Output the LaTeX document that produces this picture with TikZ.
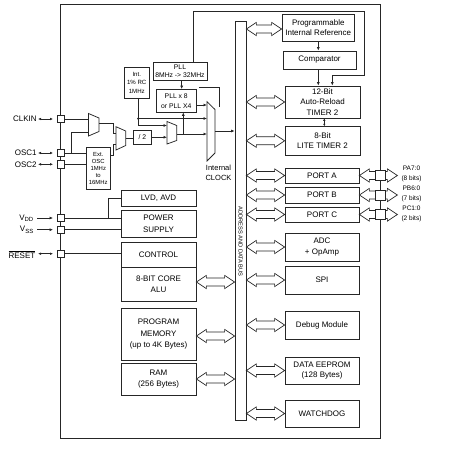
\documentclass[tikz,border=0pt]{standalone}
\usepackage{fontspec}
\setmainfont{Liberation Sans}
\usetikzlibrary{calc,arrows.meta}
\newcommand\fatarr[2]{\draw[fat] (#1) -- ($(#1)+(10,-6.6)$) -- ($(#1)+(10,-4)$) -- ($(#2)+(-10,-4)$) -- ($(#2)+(-10,-6.6)$) -- (#2) -- ($(#2)+(-10,6.6)$) -- ($(#2)+(-10,4)$) -- ($(#1)+(10,4)$) -- ($(#1)+(10,6.6)$) -- cycle;}
\tikzset{
 blk/.style={draw=black!85, fill=white, line width=0.75pt, align=center, inner sep=0pt, font=\fontsize{8}{10.5}\selectfont},
 sblk/.style={blk, font=\fontsize{6.8}{8.4}\selectfont},
 pinbox/.style={draw=black!85, fill=white, line width=0.75pt, minimum size=7.5pt, inner sep=0pt},
 ppin/.style={pinbox, minimum size=10pt},
 wire/.style={line width=0.75pt, draw=black!85},
 arr/.style={wire, -{Latex[length=3.5pt,width=3pt]}},
 dblarr/.style={wire, {Latex[length=3pt,width=2.6pt]}-{Latex[length=3pt,width=2.6pt]}},
 fat/.style={draw=black!85, fill=white, line width=0.7pt, line join=miter},
 plab/.style={font=\fontsize{8}{9}\selectfont, inner sep=0pt, anchor=east},
 portlab/.style={font=\fontsize{6.5}{10}\selectfont, inner sep=0pt, align=center},
 mux/.style={wire, fill=white},
}
\begin{document}
\begin{tikzpicture}[x=1pt,y=-1pt]
\useasboundingbox (0,0) rectangle (450,450);
% outer frame
\draw[line width=0.9pt, black!85] (60,4) rectangle (380,438);

% bus
\node[blk, minimum width=11pt, minimum height=399pt] (bus) at (240.5,220.5) {};
\node[font=\fontsize{5.7}{6}\selectfont, rotate=-90, inner sep=0pt] (bustxt) at (240.5,241.5) {ADDRESS AND DATA BUS};

% right blocks
\node[blk, minimum width=72.5pt, minimum height=27pt] (pir) at (318.25,27.5) {Programmable\\Internal Reference};
\node[blk, minimum width=73pt, minimum height=18pt] (comp) at (319.5,60) {Comparator};
\node[blk, minimum width=75pt, minimum height=32pt] (t2) at (322.5,102) {12-Bit\\Auto-Reload\\TIMER 2};
\node[blk, minimum width=75pt, minimum height=28.3pt] (lt) at (322.5,140.8) {8-Bit\\LITE TIMER 2};
\node[blk, minimum width=74pt, minimum height=15pt] (pa) at (322,175.5) {PORT A};
\node[blk, minimum width=74pt, minimum height=16pt] (pb) at (322,195) {PORT B};
\node[blk, minimum width=74pt, minimum height=15pt] (pc) at (322,214.5) {PORT C};
\node[blk, minimum width=74pt, minimum height=28pt] (adc) at (322,247) {ADC\\+ OpAmp};
\node[blk, minimum width=74pt, minimum height=28pt] (spi) at (322,280) {SPI};
\node[blk, minimum width=74pt, minimum height=28pt] (dbg) at (322,325) {Debug Module};
\node[blk, minimum width=74pt, minimum height=27pt] (eep) at (322,370.5) {DATA EEPROM\\(128 Bytes)};
\node[blk, minimum width=74pt, minimum height=27pt] (wdg) at (322,413.5) {WATCHDOG};

% left blocks
\node[blk, minimum width=75pt, minimum height=16pt] (lvd) at (158.5,198) {LVD, AVD};
\node[blk, minimum width=75pt, minimum height=27pt] (ps) at (158.5,223.5) {POWER\\[1pt]SUPPLY};
\node[blk, minimum width=75pt, minimum height=25pt] (ctrl) at (158.5,254.5) {CONTROL};
\node[blk, minimum width=75pt, minimum height=34pt] (alu) at (158.5,284) {8-BIT CORE\\ALU};
\node[blk, minimum width=75pt, minimum height=52pt] (pm) at (158.5,334) {PROGRAM\\[1.5pt]MEMORY\\[0.5pt](up to 4K Bytes)};
\node[blk, minimum width=75pt, minimum height=32pt] (ram) at (158.5,379) {RAM\\(256 Bytes)};

% clock section blocks
\node[sblk, font=\fontsize{6.1}{8.6}\selectfont, minimum width=25.5pt, minimum height=30.3pt] (rc) at (136.75,82.8) {Int.\\1\% RC\\1MHz};
\node[sblk, minimum width=54pt, minimum height=18pt] (pll) at (180,71) {PLL\\8MHz -> 32MHz};
\node[sblk, font=\fontsize{6.8}{10}\selectfont, minimum width=39.5pt, minimum height=22.5pt] (pll8) at (176.25,100.75) {PLL x 8\\or PLL X4};
\node[sblk, minimum width=18.2pt, minimum height=13.5pt] (div) at (142.4,137.25) {/ 2};
\node[sblk, font=\fontsize{5.9}{6.9}\selectfont, minimum width=23.5pt, minimum height=41.5pt] (ext) at (98.25,168.25) {Ext.\\OSC\\1MHz\\to\\16MHz};
\node[font=\fontsize{7.5}{10}\selectfont, align=center, inner sep=0pt] (iclk) at (218.5,172.7) {Internal\\CLOCK};

% muxes
\coordinate (m1tl) at (88.5,113.5); \coordinate (m1tr) at (99,118); \coordinate (m1br) at (99,131.5); \coordinate (m1bl) at (88.5,136);
\draw[mux] (m1tl) -- (m1tr) -- (m1br) -- (m1bl) -- cycle;
\coordinate (m2tl) at (116,126.7); \coordinate (m2tr) at (125.7,131); \coordinate (m2br) at (125.7,145.5); \coordinate (m2bl) at (116,150);
\draw[mux] (m2tl) -- (m2tr) -- (m2br) -- (m2bl) -- cycle;
\coordinate (m3tl) at (167,121.5); \coordinate (m3tr) at (176.7,125.5); \coordinate (m3br) at (176.7,140.5); \coordinate (m3bl) at (167,144);
\draw[mux] (m3tl) -- (m3tr) -- (m3br) -- (m3bl) -- cycle;
\coordinate (mctl) at (207,101.7); \coordinate (mctr) at (215,109.5); \coordinate (mcbr) at (215,153); \coordinate (mcbl) at (207,161);
\draw[mux] (mctl) -- (mctr) -- (mcbr) -- (mcbl) -- cycle;

% left pins
\node[pinbox] (pclk) at (60.7,119) {};
\node[pinbox] (posc1) at (60.7,153) {};
\node[pinbox] (posc2) at (60.7,164.3) {};
\node[pinbox] (pvdd) at (60.7,218) {};
\node[pinbox] (pvss) at (60.7,229.7) {};
\node[pinbox] (prst) at (60.7,253.7) {};

\node[plab] (lclk) at (36.8,119) {CLKIN};
\node[plab] (losc1) at (36.8,153) {OSC1};
\node[plab] (losc2) at (36.8,164.3) {OSC2};
\node[plab] (lvdd) at (34,218) {V\textsubscript{DD}};
\node[plab] (lvss) at (34,229.7) {V\textsubscript{SS}};
\node[plab] (lrst) at (35.5,254.3) {$\overline{\mbox{RESET}}$};

\coordinate (aclk) at ($(pclk.west)+(-3.5,0)$);
\coordinate (aosc1) at ($(posc1.west)+(-3.5,0)$);
\coordinate (aosc2) at ($(posc2.west)+(-3.5,0)$);
\coordinate (avdd) at ($(pvdd.west)+(-3.5,0)$);
\coordinate (avss) at ($(pvss.west)+(-3.5,0)$);
\coordinate (arst) at ($(prst.west)+(-3.5,0)$);
\draw[dblarr] (38,119) -- (aclk);
\draw[dblarr] (38,153) -- (aosc1);
\draw[dblarr] (38,164.3) -- (aosc2);
\draw[arr] (37,218) -- (avdd);
\draw[arr] (37,229.7) -- (avss);
\draw[dblarr] (38,253.7) -- (arst);

% left pin wires
\draw[wire] (pclk.east) -- (88.5,119);
\draw[wire] (posc1.east) -- (ext.west |- posc1);
\draw[wire] (71,153) -- (71,132) -- (88.5,132);
\draw[wire] (posc2.east) -- (ext.west |- posc2);
\draw[wire] (pvdd.east) -- (ps.west |- pvdd);
\draw[wire] (108,218) -- (108,198) -- (lvd.west);
\draw[wire] (pvss.east) -- (ps.west |- pvss);
\draw[wire] (prst.east) -- (ctrl.west |- prst);

% clock wiring
\draw[wire] (99,123) -- (113.5,123) -- (113.5,133) -- (116,133);
\draw[wire] (ext.east |- 0,155) -- (113.5,155) -- (113.5,144) -- (116,144);
\draw[wire] (125.7,138) -- (div.west |- 0,138);
\draw[arr] (div.east) -- (167,137.25);
\draw[wire] (rc.south -| 138.3,0) -- (138.3,118.5);
\fill[black!85] (138.3,118.5) circle (1.3pt);
\draw[arr] (138.3,118.5) -- (207,118.5);
\draw[arr] (138.3,118.5) -- (138.3,125.5) -- (167,125.5);
\draw[arr] (176.7,134) -- (207,134);
\draw[arr] (183.3,134) -- (pll8.south -| 183.3,0);
\draw[arr] (pll8.east |- 0,105) -- (207,105);
\draw[arr] (pll.south -| 181.7,0) -- (pll8.north -| 181.7,0);
\draw[wire] (199,87) -- (219,87) -- (219,107);
\draw[arr] (215,131) -- (bus.west |- 0,131);
\draw[arr] (pll.north -| 193.5,0) -- (193.5,11) -- (364,11) -- (364,75) -- (332.3,75) -- (t2.north -| 332.3,0);
\draw[arr] (pir.south -| 318.3,0) -- (comp.north -| 318.3,0);
\draw[arr] (comp.south -| 318.3,0) -- (t2.north -| 318.3,0);
\draw[wire, {Latex[length=2.5pt,width=2.5pt]}-{Latex[length=2.5pt,width=2.5pt]}] (t2.south -| 324.3,0) -- (lt.north -| 324.3,0);

% bus fat arrows right side
\coordinate (bpir) at (bus.east |- 0,29);  \coordinate (pirw) at (pir.west |- 0,29);
\fatarr{bpir}{pirw}
\coordinate (bt2) at (bus.east |- t2.west); \fatarr{bt2}{t2.west}
\coordinate (blt) at (bus.east |- lt.west); \fatarr{blt}{lt.west}
\coordinate (bpa) at (bus.east |- pa.west); \fatarr{bpa}{pa.west}
\coordinate (bpb) at (bus.east |- pb.west); \fatarr{bpb}{pb.west}
\coordinate (bpc) at (bus.east |- pc.west); \fatarr{bpc}{pc.west}
\coordinate (badc) at (bus.east |- adc.west); \fatarr{badc}{adc.west}
\coordinate (bspi) at (bus.east |- spi.west); \fatarr{bspi}{spi.west}
\coordinate (bdbg) at (bus.east |- dbg.west); \fatarr{bdbg}{dbg.west}
\coordinate (beep) at (bus.east |- eep.west); \fatarr{beep}{eep.west}
\coordinate (bwdg) at (bus.east |- wdg.west); \fatarr{bwdg}{wdg.west}

% left fat arrows
\coordinate (alue) at ($(alu.east)+(0,-2)$); \coordinate (balu) at (bus.west |- alue); \fatarr{alue}{balu}
\coordinate (pme) at ($(pm.east)+(0,2)$); \coordinate (bpm) at (bus.west |- pme); \fatarr{pme}{bpm}
\coordinate (bram) at (bus.west |- ram.east); \fatarr{ram.east}{bram}

% port outputs
\coordinate (pao) at ($(pa.east)+(38,0)$); \fatarr{pa.east}{pao}
\coordinate (pbo) at ($(pb.east)+(38,0)$); \fatarr{pb.east}{pbo}
\coordinate (pco) at ($(pc.east)+(38,0)$); \fatarr{pc.east}{pco}
\node[ppin] (papin) at (380,175.5) {};
\node[ppin] (pbpin) at (380,195) {};
\node[ppin] (pcpin) at (380,214.5) {};
\node[portlab] (lpa) at (411.5,174.3) {PA7:0\\(8 bits)};
\node[portlab] (lpb) at (411.5,194.3) {PB6:0\\(7 bits)};
\node[portlab] (lpc) at (411.5,213.7) {PC1:0\\(2 bits)};
\end{tikzpicture}
\end{document}
